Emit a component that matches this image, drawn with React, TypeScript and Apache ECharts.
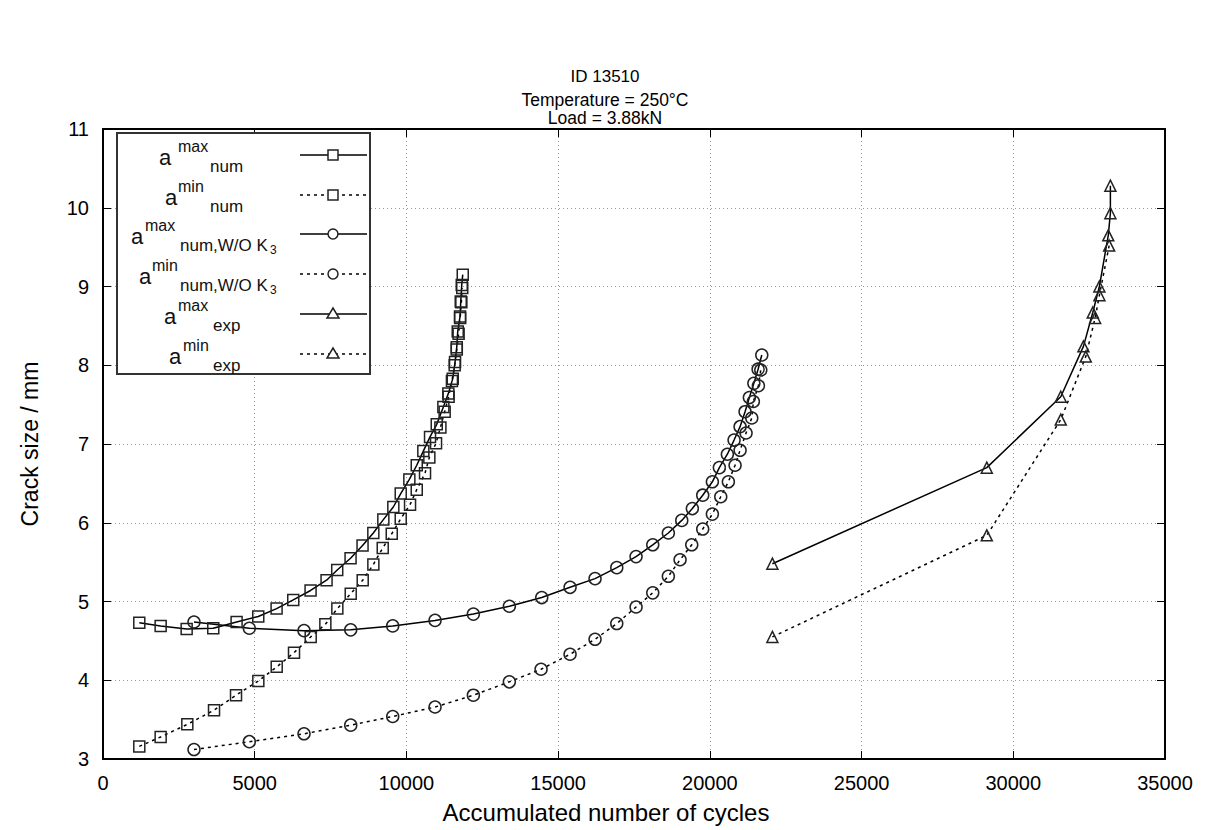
import React, { useEffect, useRef } from "react";
import * as echarts from "echarts";

const FONT = "'Liberation Sans', Arial, Helvetica, sans-serif";

const xTicks = [0, 5000, 10000, 15000, 20000, 25000, 30000, 35000];
const yTicks = [3, 4, 5, 6, 7, 8, 9, 10, 11];

const sqMaxX = [1196, 1900, 2757, 3634, 4403, 5117, 5721, 6270, 6841, 7368, 7719, 8159, 8554, 8909, 9239, 9568, 9812, 10096, 10340, 10557, 10778, 10999, 11217, 11381, 11527, 11602, 11658, 11691, 11767, 11790, 11823, 11856];
const sqMaxY = [4.73, 4.69, 4.65, 4.66, 4.74, 4.81, 4.91, 5.02, 5.14, 5.27, 5.40, 5.55, 5.71, 5.87, 6.04, 6.20, 6.37, 6.55, 6.73, 6.91, 7.09, 7.25, 7.47, 7.64, 7.83, 8.04, 8.23, 8.43, 8.62, 8.81, 9.02, 9.15];

const sqMinX = [1196, 1900, 2779, 3659, 4384, 5119, 5725, 6295, 6845, 7328, 7723, 8164, 8559, 8910, 9219, 9516, 9812, 10119, 10340, 10613, 10755, 10976, 11120, 11260, 11390, 11500, 11590, 11660, 11720, 11770, 11810, 11840];
const sqMinY = [3.16, 3.28, 3.44, 3.62, 3.81, 3.99, 4.17, 4.35, 4.55, 4.71, 4.91, 5.10, 5.27, 5.47, 5.68, 5.86, 6.05, 6.23, 6.42, 6.63, 6.83, 7.01, 7.21, 7.41, 7.60, 7.80, 8.00, 8.20, 8.40, 8.60, 8.80, 8.98];

const cMaxX = [2999, 4823, 6625, 8164, 9548, 10943, 12206, 13392, 14459, 15393, 16216, 16932, 17568, 18118, 18632, 19074, 19423, 19765, 20083, 20313, 20577, 20798, 20996, 21160, 21302, 21450, 21590, 21711];
const cMaxY = [4.74, 4.66, 4.63, 4.64, 4.69, 4.76, 4.84, 4.94, 5.05, 5.18, 5.29, 5.43, 5.57, 5.72, 5.87, 6.03, 6.18, 6.35, 6.52, 6.70, 6.87, 7.05, 7.22, 7.41, 7.59, 7.77, 7.95, 8.13];

const cMinX = [2999, 4823, 6625, 8164, 9548, 10943, 12206, 13392, 14437, 15393, 16216, 16932, 17568, 18118, 18632, 19018, 19403, 19765, 20083, 20359, 20610, 20831, 20996, 21193, 21381, 21434, 21599, 21678];
const cMinY = [3.12, 3.22, 3.32, 3.43, 3.54, 3.66, 3.81, 3.98, 4.14, 4.33, 4.52, 4.72, 4.93, 5.11, 5.32, 5.53, 5.72, 5.92, 6.11, 6.33, 6.52, 6.73, 6.92, 7.14, 7.33, 7.54, 7.74, 7.94];

const tMaxX = [22061, 29127, 31565, 32312, 32620, 32837, 33130, 33200, 33200];
const tMaxY = [5.48, 6.70, 7.60, 8.24, 8.67, 9.00, 9.65, 9.93, 10.28];

const tMinX = [22061, 29127, 31565, 32389, 32697, 32839, 33160];
const tMinY = [4.55, 5.84, 7.31, 8.11, 8.60, 8.89, 9.52];

const legendSup = ["max", "min", "max", "min", "max", "min"];
const legendSub = ["num", "num", "num,W/O K", "num,W/O K", "exp", "exp"];

const pairs = (xs: number[], ys: number[]) => xs.map((x, i) => [x, ys[i]]);

const lineSeries = (name: string, data: number[][], symbol: string, dotted: boolean, size: number) => ({
  name,
  type: "line",
  data,
  symbol,
  symbolSize: size,
  showAllSymbol: true,
  xAxisIndex: 0,
  yAxisIndex: 0,
  itemStyle: { color: "rgba(0,0,0,0)", borderColor: "#222", borderWidth: 1.5 },
  lineStyle: { color: "#000", width: 1.5, type: dotted ? [3, 4] : "solid" },
  z: 3,
});

export default function App() {
  const ref = useRef<HTMLDivElement>(null);
  useEffect(() => {
    if (!ref.current) return;
    const chart = echarts.init(ref.current, null, { renderer: "svg" });

    const ink = "#111";
    const legendX = [
      { a: 159, sup: 178, sub: 210 },
      { a: 165, sup: 178, sub: 210 },
      { a: 131, sup: 145, sub: 180 },
      { a: 139, sup: 152, sub: 180 },
      { a: 164, sup: 178, sub: 213 },
      { a: 169, sup: 183, sub: 213 },
    ];
    const rowY = [155, 195, 234, 274, 314, 354];
    const graphics: any[] = [
      {
        type: "rect",
        shape: { x: 117, y: 133, width: 253, height: 241 },
        style: { fill: "#fff", stroke: "#333", lineWidth: 2 },
        z: 10,
      },
    ];
    rowY.forEach((y, i) => {
      const lx = legendX[i];
      graphics.push({
        type: "text", x: lx.a, y: y + 2, z: 11,
        style: { text: "a", fill: ink, font: `22px ${FONT}`, textAlign: "left", textVerticalAlign: "middle" },
      });
      graphics.push({
        type: "text", x: lx.sup, y: y - 9, z: 11,
        style: { text: legendSup[i], fill: ink, font: `16px ${FONT}`, textAlign: "left", textVerticalAlign: "middle" },
      });
      graphics.push({
        type: "text", x: lx.sub, y: y + 11, z: 11,
        style: { text: legendSub[i], fill: ink, font: `17px ${FONT}`, textAlign: "left", textVerticalAlign: "middle" },
      });
      if (i === 2 || i === 3) {
        graphics.push({
          type: "text", x: 270, y: y + 16, z: 11,
          style: { text: "3", fill: ink, font: `12px ${FONT}`, textAlign: "left", textVerticalAlign: "middle" },
        });
      }
      const dotted = i % 2 === 1;
      graphics.push({
        type: "line", z: 11,
        shape: { x1: 300, y1: y, x2: 367, y2: y },
        style: { stroke: "#000", lineWidth: 1.5, lineDash: dotted ? [3, 4] : null },
      });
      const kind = Math.floor(i / 2);
      if (kind === 0) {
        graphics.push({
          type: "rect", z: 12,
          shape: { x: 328, y: y - 5, width: 10, height: 10 },
          style: { fill: "#fff", stroke: "#222", lineWidth: 1.5 },
        });
      } else if (kind === 1) {
        graphics.push({
          type: "circle", z: 12,
          shape: { cx: 333, cy: y, r: 5 },
          style: { fill: "#fff", stroke: "#222", lineWidth: 1.5 },
        });
      } else {
        graphics.push({
          type: "polygon", z: 12,
          shape: { points: [[333, y - 6], [339, y + 4], [327, y + 4]] },
          style: { fill: "#fff", stroke: "#222", lineWidth: 1.5 },
        });
      }
    });

    const axisBase = {
      type: "value",
      axisLine: { show: true, onZero: false, lineStyle: { color: "#000", width: 2 } },
      axisTick: { show: true, inside: true, length: 8, lineStyle: { color: "#000", width: 1 } },
    };

    const plain = (v: number) => String(v);

    const option: any = {
      animation: false,
      backgroundColor: "#fff",
      textStyle: { fontFamily: FONT },
      title: [
        {
          text: "ID 13510",
          left: "center",
          top: 68,
          padding: 0,
          textStyle: { fontFamily: FONT, fontSize: 17, fontWeight: "normal", color: "#000" },
        },
        {
          text: "Temperature = 250°C\nLoad = 3.88kN",
          left: "center",
          top: 91,
          padding: 0,
          textStyle: { fontFamily: FONT, fontSize: 17.5, fontWeight: "normal", color: "#000", lineHeight: 18 },
        },
      ],
      grid: { left: 103, right: 45, top: 129, bottom: 71, containLabel: false, outerBoundsMode: "none" },
      xAxis: [
        {
          ...axisBase,
          position: "bottom",
          min: xTicks[0],
          max: xTicks[xTicks.length - 1],
          interval: 5000,
          name: "Accumulated number of cycles",
          nameLocation: "middle",
          nameGap: 41,
          nameTextStyle: { fontFamily: FONT, fontSize: 24, color: "#000", padding: [0, 56, 0, 0] },
          axisLabel: { fontFamily: FONT, fontSize: 20, color: "#000", margin: 14, formatter: plain },
          splitLine: { show: true, lineStyle: { color: "#999", width: 1, type: [1, 3] } },
        },
        {
          ...axisBase,
          position: "top",
          min: xTicks[0],
          max: xTicks[xTicks.length - 1],
          interval: 5000,
          axisLabel: { show: false },
          splitLine: { show: false },
        },
      ],
      yAxis: [
        {
          ...axisBase,
          position: "left",
          min: yTicks[0],
          max: yTicks[yTicks.length - 1],
          interval: 1,
          name: "Crack size / mm",
          nameLocation: "middle",
          nameGap: 62,
          nameRotate: 90,
          nameTextStyle: { fontFamily: FONT, fontSize: 23, color: "#000" },
          axisLabel: { fontFamily: FONT, fontSize: 20, color: "#000", margin: 14, formatter: plain },
          splitLine: { show: true, lineStyle: { color: "#999", width: 1, type: [1, 3] } },
        },
        {
          ...axisBase,
          position: "right",
          min: yTicks[0],
          max: yTicks[yTicks.length - 1],
          interval: 1,
          axisLabel: { show: false },
          splitLine: { show: false },
        },
      ],
      series: [
        lineSeries("a max num", pairs(sqMaxX, sqMaxY), "rect", false, 11),
        lineSeries("a min num", pairs(sqMinX, sqMinY), "rect", true, 11),
        lineSeries("a max num,W/O K3", pairs(cMaxX, cMaxY), "circle", false, 12),
        lineSeries("a min num,W/O K3", pairs(cMinX, cMinY), "circle", true, 12),
        lineSeries("a max exp", pairs(tMaxX, tMaxY), "triangle", false, 11),
        lineSeries("a min exp", pairs(tMinX, tMinY), "triangle", true, 11),
      ],
      graphic: graphics,
    };
    chart.setOption(option);
    return () => chart.dispose();
  }, []);
  return (
    <div
      ref={ref}
      style={{ position: "fixed", left: 0, top: 0, width: 1210, height: 830, background: "#fff" }}
    />
  );
}
